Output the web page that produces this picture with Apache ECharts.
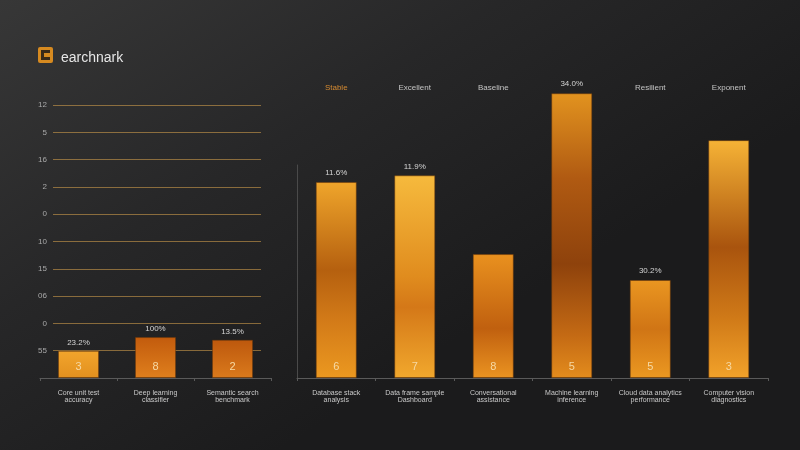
<!DOCTYPE html>
<html>
<head>
<meta charset="utf-8">
<script src="https://cdn.jsdelivr.net/npm/echarts@6/dist/echarts.min.js"></script>
<style>html,body{margin:0;padding:0;background:#222;}#c{width:800px;height:450px;}</style>
</head>
<body>
<div id="c"></div>
<script>
// ---- data ----
const chartTitle = "earchnark";

const leftCategories = ["Core unit test\naccuracy", "Deep learning\nclassifier", "Semantic search\nbenchmark"];
const leftValues = [1.0, 1.5, 1.4];
const leftTopLabels = ["23.2%", "100%", "13.5%"];
const leftInnerLabels = ["3", "8", "2"];
const leftTickLabels = ["", "55", "0", "06", "15", "10", "0", "2", "16", "5", "12"];

const rightCategories = ["Database stack\nanalysis", "Data frame sample\nDashboard", "Conversational\nassistance", "Machine learning\ninference", "Cloud data analytics\nperformance", "Computer vision\ndiagnostics"];
const rightHeaders = ["Stable", "Excellent", "Baseline", "", "Resilient", "Exponent"];
const rightValues = [23.4, 24.2, 14.8, 34.0, 11.7, 28.4];
const rightTopLabels = ["11.6%", "11.9%", "", "34.0%", "30.2%", ""];
const rightInnerLabels = ["6", "7", "8", "5", "5", "3"];

// ---- styles ----
const leftBarStops = [
  [[0, '#f2a52c'], [1, '#e2901f']],
  [[0, '#c25b0d'], [1, '#df7f1d']],
  [[0, '#bd580d'], [1, '#da7a1c']]
];
const rightBarStops = [
  [[0, '#efa52b'], [0.45, '#b5600f'], [0.7, '#d27a18'], [1, '#eb9820']],
  [[0, '#f6ba3d'], [0.5, '#e08c1e'], [0.65, '#d47818'], [1, '#f1a82d']],
  [[0, '#e9911f'], [0.6, '#c0600f'], [1, '#ea9321']],
  [[0, '#e2931f'], [0.3, '#b05a12'], [0.6, '#8e420c'], [0.85, '#c46a14'], [1, '#e38c1d']],
  [[0, '#ea9621'], [0.5, '#d07515'], [1, '#eb9821']],
  [[0, '#f6b336'], [0.45, '#a9540e'], [0.75, '#d07a18'], [1, '#f2a22a']]
];
const gridGold = 'rgba(205,155,75,0.6)';
const FONT = 'Liberation Sans';

function grad(stops) {
  return new echarts.graphic.LinearGradient(0, 0, 0, 1,
    stops.map(s => ({ offset: s[0], color: s[1] })));
}

const chart = echarts.init(document.getElementById('c'), null, { renderer: 'canvas' });

const catLabel = {
  interval: 0, fontSize: 7, lineHeight: 7.5, color: '#c9c9c9', margin: 11, fontFamily: FONT
};
const catAxisLine = { show: true, lineStyle: { color: '#5a5a5a', width: 1 } };
const catTick = { show: true, length: 3, lineStyle: { color: '#5a5a5a' } };

const option = {
  backgroundColor: {
    type: 'linear', x: 0, y: 0, x2: 0.35, y2: 1,
    colorStops: [
      { offset: 0, color: '#373737' },
      { offset: 0.5, color: '#272728' },
      { offset: 1, color: '#1b1b1c' }
    ]
  },
  animation: false,
  title: {
    text: chartTitle, left: 56, top: 46,
    textStyle: { color: '#e6e6e6', fontSize: 14, fontWeight: 'normal', fontFamily: FONT }
  },
  graphic: [{
    type: 'group', left: 38, top: 47,
    children: [
      { type: 'rect', shape: { x: 0, y: 0, width: 15, height: 16, r: 2 }, style: { fill: '#d68a20' } },
      { type: 'rect', shape: { x: 3, y: 3, width: 9, height: 10 }, style: { fill: '#3a2a18' } },
      { type: 'rect', shape: { x: 6, y: 6, width: 6, height: 4 }, style: { fill: '#d68a20' } }
    ]
  }],
  grid: [
    { left: 40, right: 529, top: 105, bottom: 72 },   // 0 left bars
    { left: 53, right: 539, top: 105, bottom: 72 },   // 1 left axis decor
    { left: 297, right: 32, top: 43, bottom: 72 },    // 2 right bars
    { left: 297, right: 32, top: 70, height: 10 },    // 3 header row
    { left: 297, right: 32, top: 165, bottom: 72 }    // 4 right vertical line
  ],
  xAxis: [
    { gridIndex: 0, type: 'category', data: leftCategories, axisLine: catAxisLine, axisTick: catTick, axisLabel: catLabel },
    { gridIndex: 1, type: 'value', min: 0, max: 1, show: false },
    { gridIndex: 2, type: 'category', data: rightCategories, axisLine: catAxisLine, axisTick: catTick, axisLabel: catLabel },
    { gridIndex: 3, type: 'category', data: rightHeaders, axisLine: { show: false }, axisTick: { show: false },
      axisLabel: { interval: 0, fontSize: 8, margin: 4, fontFamily: FONT,
        color: (v, i) => (i === 0 ? '#d48a32' : '#c4c4c4') } },
    { gridIndex: 4, type: 'value', min: 0, max: 1, show: false }
  ],
  yAxis: [
    { gridIndex: 0, type: 'value', min: 0, max: 10, interval: 1, show: false },
    { gridIndex: 1, type: 'value', min: 0, max: 10, interval: 1,
      axisLine: { show: false }, axisTick: { show: false },
      axisLabel: { margin: 6, fontSize: 8, color: '#a9a9a9', fontFamily: FONT,
        formatter: v => leftTickLabels[Math.round(v)] },
      splitLine: { show: true, lineStyle: { color: gridGold, width: 1 } } },
    { gridIndex: 2, type: 'value', min: 0, max: 40, show: false },
    { gridIndex: 3, type: 'value', min: 0, max: 1, show: false },
    { gridIndex: 4, type: 'value', min: 0, max: 1,
      axisLine: { show: true, lineStyle: { color: '#4a4a4a' } }, axisTick: { show: false },
      axisLabel: { show: false }, splitLine: { show: false } }
  ],
  series: [
    {
      type: 'bar', xAxisIndex: 0, yAxisIndex: 0, barWidth: 41, barGap: '-100%',
      data: leftValues.map((v, i) => ({ value: v, itemStyle: { color: grad(leftBarStops[i]) } })),
      itemStyle: { borderColor: 'rgba(110,55,8,0.5)', borderWidth: 1 },
      label: { show: true, position: 'top', distance: 4, fontSize: 8, color: '#d4d4d4', fontFamily: FONT,
        formatter: p => leftTopLabels[p.dataIndex] }
    },
    {
      type: 'bar', xAxisIndex: 0, yAxisIndex: 0, barWidth: 41, barGap: '-100%', silent: true,
      data: leftValues.slice(),
      itemStyle: { color: 'rgba(0,0,0,0)' },
      label: { show: true, position: 'insideBottom', distance: 6, fontSize: 11, color: '#f6d9a4', fontFamily: FONT,
        formatter: p => leftInnerLabels[p.dataIndex] }
    },
    {
      type: 'bar', xAxisIndex: 2, yAxisIndex: 2, barWidth: 41, barGap: '-100%',
      data: rightValues.map((v, i) => ({ value: v, itemStyle: { color: grad(rightBarStops[i]) } })),
      itemStyle: { borderColor: 'rgba(110,55,8,0.5)', borderWidth: 1 },
      label: { show: true, position: 'top', distance: 5, fontSize: 8, color: '#d4d4d4', fontFamily: FONT,
        formatter: p => rightTopLabels[p.dataIndex] }
    },
    {
      type: 'bar', xAxisIndex: 2, yAxisIndex: 2, barWidth: 41, barGap: '-100%', silent: true,
      data: rightValues.slice(),
      itemStyle: { color: 'rgba(0,0,0,0)' },
      label: { show: true, position: 'insideBottom', distance: 6, fontSize: 11, color: '#f6d9a4', fontFamily: FONT,
        formatter: p => rightInnerLabels[p.dataIndex] }
    }
  ]
};
chart.setOption(option);
</script>
</body>
</html>
